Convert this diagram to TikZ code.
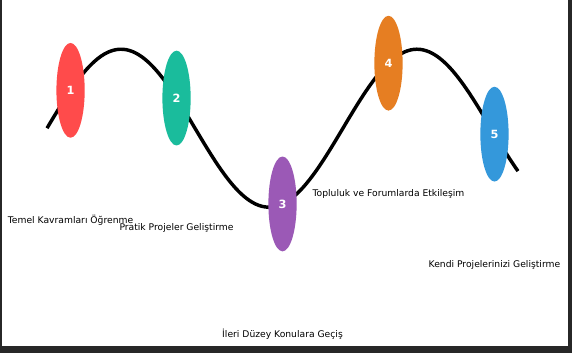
\documentclass[tikz,border=0pt]{standalone}
\usepackage{fontspec}
\setmainfont{DejaVu Sans}
\usetikzlibrary{shapes.geometric}
\definecolor{stepred}{HTML}{FF4B4B}
\definecolor{stepteal}{HTML}{1ABC9C}
\definecolor{steppurple}{HTML}{9B59B6}
\definecolor{steporange}{HTML}{E67E22}
\definecolor{stepblue}{HTML}{3498DB}
\definecolor{framegray}{HTML}{272727}

\begin{document}
\begin{tikzpicture}[x=35.33pt,y=59.25pt,
    milestone/.style={ellipse,inner sep=0pt,minimum width=21.2pt,minimum height=71.1pt,
      text=white,font=\fontsize{8.5}{9}\selectfont\bfseries},
    caption/.style={font=\fontsize{6.9}{8}\selectfont}]
                \fill[framegray] (-0.998,1.623) rectangle (11.146,-2.846);
                \fill[white] (-0.955,1.623) rectangle (11.06,-2.757);
                \draw[line width=2.6pt,domain=0:10,samples=150,smooth] plot (\x,{sin(\x r)});
                \foreach \n/\x/\c/\t in {1/0.5/stepred/Temel Kavramları Öğrenme,
                    2/2.75/stepteal/Pratik Projeler Geliştirme,
                    3/5.0/steppurple/İleri Düzey Konulara Geçiş,
                    4/7.25/steporange/Topluluk ve Forumlarda Etkileşim,
                    5/9.5/stepblue/Kendi Projelerinizi Geliştirme}{
                    \node[milestone,fill=\c] (s\n) at (\x,{sin(\x r)}) {\n};
                    \node[caption] (l\n) at (\x,{sin(\x r)-1.65}) {\t};
                }
                
            \end{tikzpicture}
\end{document}
